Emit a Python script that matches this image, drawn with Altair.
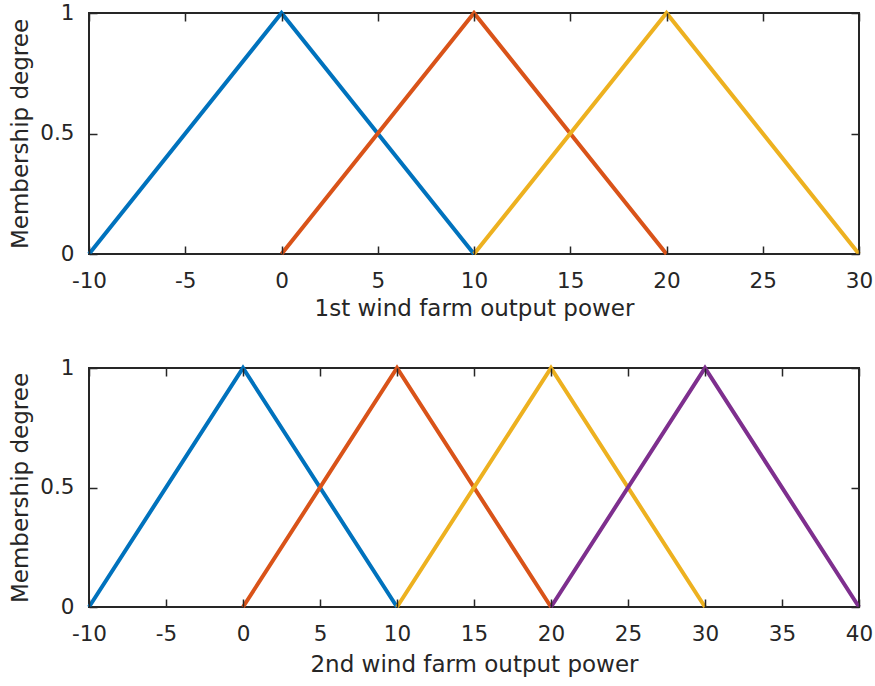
import altair as alt
import pandas as pd

# ---- data ----
colors = ["#0072BD", "#D95319", "#EDB120", "#7E2F8E"]
mu = [0, 1, 0]
top_sets = [[-10, 0, 10], [0, 10, 20], [10, 20, 30]]
bottom_sets = [[-10, 0, 10], [0, 10, 20], [10, 20, 30], [20, 30, 40]]
top_ticks = [-10, -5, 0, 5, 10, 15, 20, 25, 30]
bottom_ticks = [-10, -5, 0, 5, 10, 15, 20, 25, 30, 35, 40]
y_ticks = [0, 0.5, 1]
top_title = "1st wind farm output power"
bottom_title = "2nd wind farm output power"
y_title = "Membership degree"

FONT = "DejaVu Sans"
AX = "#262626"
W = 770


def frame(sets):
    rows = []
    for i, xs in enumerate(sets):
        for j, (x, y) in enumerate(zip(xs, mu)):
            rows.append({"x": x, "y": y, "set": f"MF{i+1}", "c": colors[i], "k": j})
    return pd.DataFrame(rows)


tick_common = dict(domain=False, ticks=True, tickSize=8, tickColor=AX, tickWidth=1.5,
                   offset=-8, grid=False, zindex=1)


def panel(sets, xdom, xticks, title, h, titleY):
    df = frame(sets)
    xs = alt.Scale(domain=xdom, nice=False, zero=False)
    ys = alt.Scale(domain=[0, 1], nice=False, zero=False)
    lines = alt.Chart(df).mark_line(strokeWidth=4).encode(
        x=alt.X("x:Q", scale=xs, axis=alt.Axis(
            values=xticks, labelExpr="'' + datum.value", labelPadding=16,
            labelFlush=False, labelOverlap=False,
            labelFont=FONT, labelFontSize=21.5, labelColor=AX,
            title=title, titleFont=FONT, titleFontSize=23, titleColor=AX,
            titleFontWeight="normal", titleX=W / 2, titleY=titleY,
            titleAlign="center", titleBaseline="alphabetic", **tick_common)),
        y=alt.Y("y:Q", scale=ys, axis=alt.Axis(
            values=y_ticks, labelExpr="'' + datum.value", labelPadding=15,
            labelFlush=False, labelOverlap=False,
            labelFont=FONT, labelFontSize=21.5, labelColor=AX,
            title=y_title, titleFont=FONT, titleFontSize=23, titleColor=AX,
            titleFontWeight="normal", titleX=-70, titleY=h / 2, titleAngle=270,
            titleAlign="center", titleBaseline="alphabetic", **tick_common)),
        color=alt.Color("c:N", scale=None),
        detail="set:N",
        order="k:Q",
    )
    mirror = alt.Chart(df).mark_line(opacity=0).encode(
        x=alt.X("x:Q", scale=xs, axis=alt.Axis(orient="top", values=xticks, labels=False,
                                               title=None, **tick_common)),
        y=alt.Y("y:Q", scale=ys, axis=alt.Axis(orient="right", values=y_ticks, labels=False,
                                               title=None, **tick_common)),
        detail="set:N",
    )
    return alt.layer(lines, mirror).resolve_axis(x="independent", y="independent").properties(
        width=W, height=h)


top = panel(top_sets, [-10, 30], top_ticks, top_title, 241, 69)
bottom = panel(bottom_sets, [-10, 40], bottom_ticks, bottom_title, 239, 72)

chart = alt.vconcat(top, bottom, spacing=114, bounds="flush").properties(
    padding={"left": 7, "top": 1, "right": 0, "bottom": 0},
    background="white",
).configure_view(stroke=AX, strokeWidth=2)

chart.save("out.html", embed_options={"renderer": "svg", "actions": False})
